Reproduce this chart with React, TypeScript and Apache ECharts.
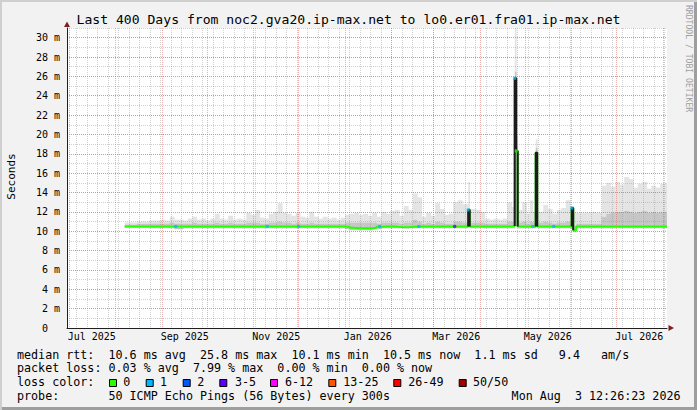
import { useEffect, useRef } from "react";
import * as echarts from "echarts";

const MONO = "'DejaVu Sans Mono', monospace";

// graph period: last 400 days
const START = Date.UTC(2025, 5, 29, 12, 26, 23);
const END = Date.UTC(2026, 7, 3, 12, 26, 23);

// x axis: month starts (major grid) and the 2-monthly labels
const monthStarts = [
  "2025-07-01", "2025-08-01", "2025-09-01", "2025-10-01", "2025-11-01",
  "2025-12-01", "2026-01-01", "2026-02-01", "2026-03-01", "2026-04-01",
  "2026-05-01", "2026-06-01", "2026-07-01", "2026-08-01",
];
const xLabelMonths = ["2025-07-01", "2025-09-01", "2025-11-01", "2026-01-01", "2026-03-01", "2026-05-01", "2026-07-01"];
const xLabels = ["Jul 2025", "Sep 2025", "Nov 2025", "Jan 2026", "Mar 2026", "May 2026", "Jul 2026"];
const firstSunday = "2025-07-06";

// y axis (ms)
const yTicks = [0, 2, 4, 6, 8, 10, 12, 14, 16, 18, 20, 22, 24, 26, 28, 30];
const yMax = 31;

// smoke + median, one sample per row (ms)
const smokeDates = [
  "2025-08-07", "2025-08-11", "2025-08-15", "2025-08-19", "2025-08-23", "2025-08-27", "2025-08-31",
  "2025-09-03", "2025-09-06", "2025-09-09", "2025-09-12", "2025-09-15", "2025-09-18", "2025-09-21",
  "2025-09-24", "2025-09-27", "2025-09-30", "2025-10-03", "2025-10-06", "2025-10-09", "2025-10-12",
  "2025-10-15", "2025-10-18", "2025-10-21", "2025-10-24", "2025-10-27", "2025-10-30", "2025-11-02",
  "2025-11-05", "2025-11-08", "2025-11-11", "2025-11-14", "2025-11-17", "2025-11-20", "2025-11-23",
  "2025-11-26", "2025-11-29", "2025-12-02", "2025-12-05", "2025-12-08", "2025-12-11", "2025-12-14",
  "2025-12-17", "2025-12-20", "2025-12-23", "2025-12-26", "2025-12-29", "2026-01-01", "2026-01-04",
  "2026-01-07", "2026-01-10", "2026-01-13", "2026-01-16", "2026-01-19", "2026-01-22", "2026-01-25",
  "2026-01-28", "2026-01-31", "2026-02-03", "2026-02-06", "2026-02-09", "2026-02-12", "2026-02-15",
  "2026-02-18", "2026-02-21", "2026-02-24", "2026-02-27", "2026-03-02", "2026-03-05", "2026-03-08",
  "2026-03-11", "2026-03-14", "2026-03-17", "2026-03-20", "2026-03-24", "2026-03-25", "2026-03-29",
  "2026-04-01", "2026-04-04", "2026-04-07", "2026-04-10", "2026-04-13", "2026-04-16", "2026-04-19",
  "2026-04-22", "2026-04-24", "2026-04-25", "2026-04-26", "2026-04-29", "2026-05-02", "2026-05-04",
  "2026-05-06", "2026-05-08", "2026-05-09", "2026-05-13", "2026-05-16", "2026-05-19", "2026-05-22",
  "2026-05-25", "2026-05-28", "2026-05-31", "2026-06-01", "2026-06-02", "2026-06-04", "2026-06-09",
  "2026-06-13", "2026-06-17", "2026-06-21", "2026-06-24", "2026-06-27", "2026-06-30", "2026-07-03",
  "2026-07-06", "2026-07-09", "2026-07-12", "2026-07-15", "2026-07-18", "2026-07-21", "2026-07-24",
  "2026-07-27", "2026-07-30", "2026-08-02",
];
const rttMin = [
  10.35, 10.35, 10.35, 10.35, 10.3, 10.3, 10.3,
  10.3, 10.3, 10.2, 10.2, 10.3, 10.3, 10.3,
  10.3, 10.3, 10.3, 10.3, 10.3, 10.3, 10.3,
  10.3, 10.3, 10.3, 10.3, 10.3, 10.3, 10.3,
  10.3, 10.3, 10.3, 10.3, 10.3, 10.3, 10.3,
  10.3, 10.3, 10.3, 10.3, 10.3, 10.3, 10.3,
  10.3, 10.3, 10.3, 10.3, 10.3, 10.2, 10.1,
  10.1, 10.1, 10.1, 10.1, 10.2, 10.2, 10.3,
  10.3, 10.3, 10.3, 10.3, 10.3, 10.3, 10.3,
  10.3, 10.3, 10.3, 10.3, 10.3, 10.3, 10.3,
  10.3, 10.3, 10.3, 10.3, 10.4, 10.3, 10.3,
  10.3, 10.3, 10.3, 10.3, 10.3, 10.3, 10.3,
  10.3, 10.5, 10.5, 10.3, 10.3, 10.3, 10.3,
  10.3, 10.5, 10.3, 10.3, 10.3, 10.3, 10.3,
  10.3, 10.3, 10.3, 10.4, 9.9, 10.3, 10.3,
  10.3, 10.3, 10.3, 10.3, 10.3, 10.3, 10.3,
  10.3, 10.3, 10.3, 10.3, 10.3, 10.3, 10.3,
  10.3, 10.3, 10.3,
];
const rttMedian = [
  10.5, 10.5, 10.5, 10.5, 10.5, 10.5, 10.5,
  10.5, 10.5, 10.5, 10.5, 10.5, 10.5, 10.5,
  10.5, 10.5, 10.5, 10.5, 10.5, 10.5, 10.5,
  10.5, 10.5, 10.5, 10.5, 10.5, 10.5, 10.5,
  10.5, 10.5, 10.5, 10.5, 10.5, 10.5, 10.5,
  10.5, 10.5, 10.5, 10.5, 10.5, 10.5, 10.5,
  10.5, 10.5, 10.5, 10.5, 10.5, 10.45, 10.35,
  10.3, 10.3, 10.3, 10.3, 10.35, 10.45, 10.5,
  10.5, 10.5, 10.45, 10.4, 10.4, 10.45, 10.45,
  10.5, 10.5, 10.5, 10.5, 10.5, 10.5, 10.5,
  10.5, 10.5, 10.5, 10.5, 12.2, 10.5, 10.5,
  10.5, 10.5, 10.5, 10.5, 10.5, 10.5, 10.5,
  10.55, 25.8, 18.3, 10.5, 10.5, 10.5, 10.5,
  10.5, 18.1, 10.5, 10.5, 10.5, 10.5, 10.5,
  10.5, 10.5, 10.5, 12.4, 10.1, 10.5, 10.5,
  10.5, 10.5, 10.5, 10.5, 10.5, 10.5, 10.5,
  10.5, 10.5, 10.5, 10.5, 10.5, 10.5, 10.5,
  10.5, 10.5, 10.5,
];
const rttInner = [
  10.7, 10.7, 10.75, 10.75, 10.8, 10.8, 10.8,
  10.8, 10.9, 10.8, 10.8, 10.8, 10.8, 10.9,
  10.8, 10.8, 10.8, 10.8, 10.9, 10.8, 10.8,
  10.9, 10.8, 10.8, 10.8, 10.9, 10.9, 10.9,
  10.8, 10.8, 10.9, 10.9, 11.0, 10.9, 10.9,
  10.8, 10.9, 10.8, 10.8, 10.9, 10.8, 10.8,
  10.8, 10.8, 10.8, 10.8, 10.8, 10.9, 10.9,
  10.9, 10.9, 10.9, 10.9, 10.9, 10.8, 10.9,
  10.9, 10.9, 10.9, 10.8, 10.9, 10.9, 11.2,
  11.0, 10.8, 10.9, 10.8, 11.0, 10.9, 10.8,
  10.8, 11.0, 11.0, 10.9, 12.4, 10.9, 10.9,
  10.9, 10.8, 10.8, 10.8, 10.8, 10.8, 11.0,
  11.0, 26.5, 18.8, 10.9, 11.0, 10.8, 11.0,
  10.9, 18.6, 10.9, 11.0, 10.9, 10.8, 10.9,
  10.9, 11.0, 10.9, 12.5, 10.6, 10.8, 10.8,
  10.8, 10.8, 11.5, 11.8, 11.9, 12.0, 12.0,
  12.1, 12.0, 11.9, 12.0, 12.1, 11.9, 12.0,
  11.9, 12.0, 12.0,
];
const rttMax = [
  10.9, 10.9, 11.0, 11.0, 11.1, 11.1, 11.2,
  11.1, 11.5, 11.2, 11.2, 11.1, 11.3, 11.5,
  11.2, 11.3, 11.1, 11.3, 11.8, 11.3, 11.2,
  11.6, 11.2, 11.3, 11.2, 11.9, 11.7, 12.2,
  11.4, 11.3, 11.8, 12.0, 12.9, 11.9, 11.8,
  11.6, 11.9, 11.5, 11.4, 12.0, 11.5, 11.3,
  11.5, 11.3, 11.4, 11.2, 11.4, 11.7, 11.8,
  11.9, 11.7, 11.8, 11.6, 11.9, 11.5, 12.0,
  11.8, 12.1, 12.2, 11.6, 12.6, 12.2, 13.9,
  13.5, 11.5, 11.9, 11.6, 12.9, 12.3, 11.7,
  11.8, 13.0, 13.2, 12.8, 15.1, 12.3, 12.2,
  12.0, 11.3, 11.2, 11.3, 11.2, 11.3, 13.0,
  12.5, 31.0, 19.9, 12.2, 13.0, 11.8, 13.2,
  12.0, 19.5, 12.0, 12.7, 12.3, 11.8, 12.2,
  12.4, 13.2, 12.2, 12.6, 11.9, 11.9, 11.9,
  12.0, 11.9, 14.7, 15.0, 14.6, 15.1, 14.8,
  15.6, 15.4, 14.5, 14.9, 15.1, 14.4, 14.7,
  14.5, 14.9, 15.0,
];

// loss colour marks on the median line
const lossDates = [
  "2025-09-10", "2025-11-10", "2025-12-01", "2026-01-24", "2026-02-19", "2026-03-15",
  "2026-03-24", "2026-04-24", "2026-04-25", "2026-05-06", "2026-05-20", "2026-06-01",
];
const lossValues = [10.5, 10.5, 10.5, 10.5, 10.5, 10.5, 12.2, 25.8, 18.3, 10.5, 10.5, 12.4];
const lossBuckets = [1, 1, 1, 1, 1, 3, 1, 1, 0, 1, 1, 1];

const lossLabels = ["0", "1", "2", "3-5", "6-12", "13-25", "26-49", "50/50"];
const lossColors = ["#26ff00", "#00b8ff", "#0059ff", "#5e00ff", "#ff00ff", "#ff5500", "#ff0000", "#a10000"];

const statLines = [
  "median rtt:  10.6 ms avg  25.8 ms max  10.1 ms min  10.5 ms now  1.1 ms sd   9.4   am/s",
  "packet loss: 0.03 % avg  7.99 % max  0.00 % min  0.00 % now",
  "loss color:",
  "probe:       50 ICMP Echo Pings (56 Bytes) every 300s",
];
const stampText = "Mon Aug  3 12:26:23 2026";
const titleText = "Last 400 Days from noc2.gva20.ip-max.net to lo0.er01.fra01.ip-max.net";

const DAY = 86400000;
const SPIKE_LEVEL = 11;
const ts = (d: string) => {
  const [y, m, dd] = d.split("-").map(Number);
  return Date.UTC(y, m - 1, dd);
};
const nb = (s: string) => s.replace(/ /g, "\u00a0");

export default function App() {
  const ref = useRef<HTMLDivElement>(null);

  useEffect(() => {
    if (!ref.current) return;
    const chart = echarts.init(ref.current, undefined, { renderer: "svg" });

    const monthTs = monthStarts.map(ts);
    const labelTs = xLabelMonths.map((d) => ts(d) + 15 * DAY);
    const weekTs: number[] = [];
    for (let t = ts(firstSunday); t < END; t += 7 * DAY) weekTs.push(t);

    const xs = [...smokeDates.map(ts), END];
    const last = smokeDates.length - 1;
    const meds = [...rttMedian, rttMedian[last]];

    // one smoke block per sample: [from, to, min, inner, max]
    const smokeData = smokeDates.map((_, i) => [xs[i], xs[i + 1], rttMin[i], rttInner[i], rttMax[i]]);

    // dark parts of the median where it jumps up
    const spikeData: any[] = [];
    for (let i = 1; i < meds.length - 1; i++) {
      if (meds[i] > SPIKE_LEVEL && meds[i - 1] <= SPIKE_LEVEL) {
        spikeData.push([xs[i], meds[i - 1]]);
        let j = i;
        while (j < meds.length - 1 && meds[j] > SPIKE_LEVEL) {
          spikeData.push([xs[j], meds[j]]);
          j++;
        }
        spikeData.push([xs[j], meds[j]]);
        spikeData.push("-");
        i = j;
      }
    }

    const gridGray = "rgba(143,143,143,0.42)";
    const gridRed = "rgba(222,79,79,0.45)";
    const axisColor = "#1f1f1f";

    const legendSquareX = [109, 145.7, 182.7, 219.3, 270, 328.3, 393.3, 458.7];
    const legendTextX = [123.3, 160, 197.3, 235, 285, 343.3, 408.3, 473];
    const lineY = [354.5, 368.3, 382.2, 396.2];

    const graphics: any[] = [
      {
        type: "text", x: 348.5, y: 19.5,
        style: { text: nb(titleText), fontFamily: MONO, fontSize: 13.1, fill: "#000", align: "center", verticalAlign: "middle" },
      },
      {
        type: "text", x: 11.5, y: 176.5, rotation: Math.PI / 2,
        style: { text: "Seconds", fontFamily: MONO, fontSize: 11, fill: "#000", align: "center", verticalAlign: "middle" },
      },
      {
        type: "text", x: 688.5, y: 5, rotation: -Math.PI / 2,
        style: { text: nb("RRDTOOL / TOBI OETIKER"), fontFamily: MONO, fontSize: 8.1, fill: "#a0a0a0", align: "left", verticalAlign: "middle" },
      },
      { type: "polygon", shape: { points: [[64, 27], [70, 27], [67, 21.5]] }, style: { fill: "#7f1f1f" }, z: 10 },
      { type: "polygon", shape: { points: [[668.5, 325], [668.5, 331], [674, 328]] }, style: { fill: "#7f1f1f" }, z: 10 },
      ...statLines.map((s, i) => ({
        type: "text", x: 17, y: lineY[i],
        style: { text: nb(s), fontFamily: MONO, fontSize: 11.7, fill: "#000", align: "left", verticalAlign: "middle" },
      })),
      {
        type: "text", x: 680.5, y: lineY[3],
        style: { text: nb(stampText), fontFamily: MONO, fontSize: 11.7, fill: "#000", align: "right", verticalAlign: "middle" },
      },
      ...lossLabels.flatMap((lab, i) => [
        {
          type: "rect", shape: { x: legendSquareX[i] + 0.5, y: 379.5, width: 7, height: 7 },
          style: { fill: lossColors[i], stroke: "#000", lineWidth: 1 },
        },
        {
          type: "text", x: legendTextX[i], y: lineY[2],
          style: { text: lab, fontFamily: MONO, fontSize: 11.7, fill: "#000", align: "left", verticalAlign: "middle" },
        },
      ]),
    ];

    const option: echarts.EChartsOption = {
      animation: false,
      backgroundColor: "transparent",
      grid: { left: 67, top: 28, width: 600, height: 300, show: true, backgroundColor: "#ffffff", borderWidth: 0 },
      xAxis: [
        {
          type: "value", min: START, max: END, position: "bottom", z: 2,
          axisLine: { show: false }, axisTick: { show: false, customValues: weekTs }, axisLabel: { show: false },
          splitLine: { show: true, lineStyle: { color: gridGray, type: [1, 1], width: 1 } },
        },
        {
          type: "value", min: START, max: END, position: "bottom", z: 2,
          axisLine: { show: true, lineStyle: { color: axisColor, width: 1 } },
          axisTick: { show: false, customValues: monthTs },
          axisLabel: {
            show: true, customValues: labelTs, margin: 3, color: "#000", fontFamily: MONO, fontSize: 10,
            formatter: (v: number) => {
              const i = labelTs.indexOf(v);
              return i >= 0 ? xLabels[i] : "";
            },
          },
          splitLine: { show: true, lineStyle: { color: gridRed, type: [1, 1], width: 1 } },
        },
      ],
      yAxis: [
        {
          type: "value", min: 0, max: yMax, interval: 1, position: "left", z: 2,
          axisLine: { show: false }, axisTick: { show: false }, axisLabel: { show: false },
          splitLine: { show: true, lineStyle: { color: gridGray, type: [1, 1], width: 1 } },
        },
        {
          type: "value", min: 0, max: yMax, position: "left", z: 2,
          axisLine: { show: true, lineStyle: { color: axisColor, width: 1 } },
          axisTick: { show: false, customValues: yTicks },
          axisLabel: {
            customValues: yTicks, margin: 7, color: "#000", fontFamily: MONO, fontSize: 10,
            formatter: (v: number) => (v === 0 ? "0\u00a0\u00a0" : `${v}\u00a0m`),
          },
          splitLine: { show: true, lineStyle: { color: gridRed, type: [1, 1], width: 1 } },
        },
      ],
      series: [
        {
          type: "custom", xAxisIndex: 1, yAxisIndex: 1, z: 1, silent: true, clip: true,
          encode: { x: [0, 1], y: [2, 3, 4] },
          data: smokeData,
          renderItem: (_params: any, api: any) => {
            const a = api.coord([api.value(0), api.value(4)]);
            const b = api.coord([api.value(1), api.value(3)]);
            const c = api.coord([api.value(1), api.value(2)]);
            const w = b[0] - a[0] + 0.4;
            return {
              type: "group",
              children: [
                { type: "rect", shape: { x: a[0], y: a[1], width: w, height: b[1] - a[1] }, style: { fill: "#e4e4e4" } },
                { type: "rect", shape: { x: a[0], y: b[1], width: w, height: c[1] - b[1] }, style: { fill: "#c6c6c6" } },
              ],
            };
          },
        },
        {
          type: "line", xAxisIndex: 1, yAxisIndex: 1, step: "end", z: 3, silent: true,
          symbol: "none", lineStyle: { width: 2, color: lossColors[0] },
          data: xs.map((x, i) => [x, meds[i]]),
        },
        {
          type: "line", xAxisIndex: 1, yAxisIndex: 1, step: "end", z: 4, silent: true, connectNulls: false,
          symbol: "none", lineStyle: { width: 2, color: "#1c1c1c" },
          data: spikeData,
        },
        {
          type: "scatter", xAxisIndex: 1, yAxisIndex: 1, z: 5, silent: true,
          symbol: "rect", symbolSize: 3,
          data: lossDates.map((d, i) => ({
            value: [ts(d), lossValues[i]],
            itemStyle: { color: lossColors[lossBuckets[i]] },
          })),
        },
      ],
      graphic: { elements: graphics },
    };

    chart.setOption(option);
    return () => chart.dispose();
  }, []);

  return (
    <div
      style={{
        position: "fixed", left: 0, top: 0, width: 697, height: 410,
        background: "#f2f2f2",
        boxShadow: "inset 2px 2px 0 #cfcfcf, inset -3px -3px 0 #9e9e9e",
      }}
    >
      <div ref={ref} style={{ width: 697, height: 410 }} />
    </div>
  );
}
